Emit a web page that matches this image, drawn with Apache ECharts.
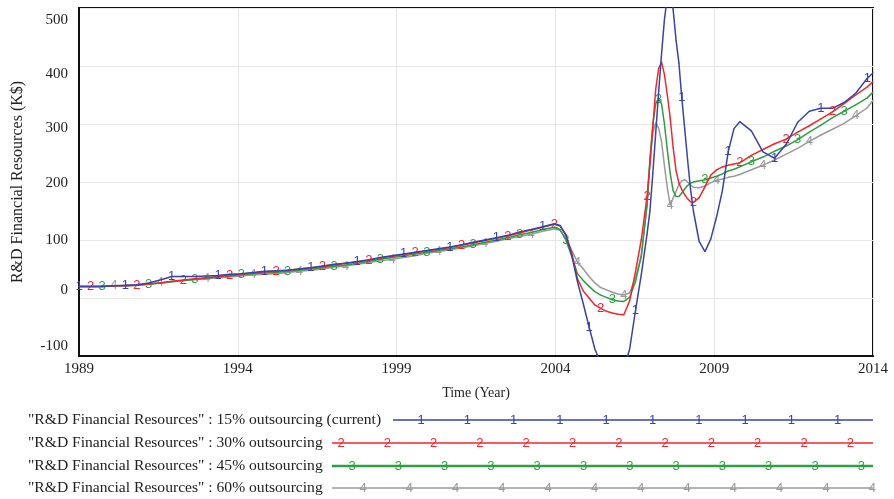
<!DOCTYPE html>
<html><head><meta charset="utf-8">
<script src="https://cdn.jsdelivr.net/npm/echarts@6/dist/echarts.min.js"></script>
<style>html,body{margin:0;padding:0;background:#fff}#c{width:894px;height:499px}</style>
</head><body><div id="c"></div>
<script>
const years=[1989.000,1989.365,1989.730,1990.095,1990.460,1990.825,1991.190,1991.555,1991.920,1992.285,1992.650,1993.015,1993.380,1993.745,1994.110,1994.475,1994.840,1995.205,1995.570,1995.935,1996.300,1996.665,1997.030,1997.395,1997.760,1998.125,1998.490,1998.855,1999.220,1999.585,1999.950,2000.315,2000.680,2001.045,2001.410,2001.775,2002.140,2002.505,2002.870,2003.235,2003.600,2003.965,
2004.148,2004.330,2004.513,2004.695,2004.878,2005.060,2005.243,2005.425,2005.608,2005.790,2005.973,2006.155,2006.338,2006.520,2006.703,2006.885,2006.976,2007.068,2007.159,2007.250,2007.341,2007.433,2007.524,2007.615,2007.706,2007.798,2007.889,2007.980,2008.071,2008.163,2008.254,2008.345,2008.528,2008.710,2008.893,2009.075,2009.258,2009.440,2009.623,2009.805,
2010.170,2010.535,2010.900,2011.265,2011.630,2011.995,2012.360,2012.725,2013.090,2013.455,2013.820,2014.000];
const out15=[20,20,20,21,22,23,26,31,37,37,37,38,39,41,42,44,46,47,48,50,52,55,58,60,63,66,70,73,76,79,82,85,88,92,96,100,104,108,114,118,123,128,
125,108,74,28,-10,-50,-88,-112,-130,-138,-135,-122,-88,-22,40,110,150,215,285,355,420,480,520,525,498,445,405,345,292,238,188,150,97,80,102,140,185,252,292,304,
288,252,241,265,303,322,327,327,337,353,379,388];
const out30=[20,20,20,21,21,22,24,26,29,31,33,35,37,39,41,43,45,46,48,50,52,54,57,60,62,65,69,72,75,78,81,84,87,91,95,99,103,107,112,117,122,127,
124,110,78,33,12,0,-12,-18,-23,-26,-28,-29,-5,45,100,175,230,295,360,395,407,385,350,310,260,220,198,187,178,171,166,165,173,192,212,221,226,229,231,233,
246,256,266,274,286,297,309,321,335,350,364,373];
const out45=[20,20,20,21,21,22,24,26,28,30,32,34,36,38,40,42,43,44,46,48,50,52,55,57,60,63,67,70,73,76,79,82,85,88,92,96,100,104,109,113,118,122,
118,100,72,42,30,20,11,5,1,-3,-5,-6,1,28,72,160,240,300,335,343,335,300,255,215,185,175,175,181,188,194,198,200,202,204,207,210,214,219,222,226,
235,243,253,262,273,286,298,311,322,333,345,355];
const out60=[20,20,20,21,21,22,24,26,28,30,32,33,35,36,38,40,41,42,44,46,48,50,53,55,58,61,64,67,70,73,77,80,83,86,90,94,98,102,106,110,115,119,
117,102,82,62,50,37,26,18,14,10,7,5,9,34,72,160,235,285,302,293,270,228,190,160,172,184,195,202,204,200,195,191,190,193,199,203,205,208,210,213,
221,229,238,248,258,270,281,291,301,314,328,341];
const seriesNames=['"R&D Financial Resources" : 15% outsourcing (current)','"R&D Financial Resources" : 30% outsourcing','"R&D Financial Resources" : 45% outsourcing','"R&D Financial Resources" : 60% outsourcing'];
const markerText=['1','2','3','4'];
const xTickLabels=['1989','1994','1999','2004','2009','2014'];
const yTickLabels=['-100','0','100','200','300','400','500'];

const colors=['#3a43a6','#f2262b','#2f9e44','#9a9a9a'];
const allVals=[out15,out30,out45,out60];
const markStep=0.365;
const yShift=[-10,-8,0,1,4,8,12];

function build(vals,k){
  return years.map((t,i)=>{
    const r=(t-1989)/markStep, n=Math.round(r);
    const item={value:[t-1989,vals[i]]};
    if(Math.abs(r-n)<0.01 && n%4===k) item.label={show:true};
    return item;
  });
}
const series=allVals.map((v,k)=>({
  type:'line',name:seriesNames[k],data:build(v,k),
  symbol:'circle',symbolSize:1,showSymbol:true,showAllSymbol:true,
  lineStyle:{color:colors[k],width:1.5},itemStyle:{color:colors[k]},
  label:{show:false,position:'inside',formatter:markerText[k],color:colors[k],fontSize:13,fontFamily:'Liberation Sans'},
  emphasis:{disabled:true},z:10-k,animation:false
}));

const rich={};
yShift.forEach((s,i)=>{rich['s'+i]={fontFamily:'Liberation Serif',fontSize:15,color:'#222',padding:s>=0?[2*s,0,0,0]:[0,0,-2*s,0]};});

const legendRows=[{y:420,x0:393,m0:421},{y:443,x0:332,m0:341},{y:466,x0:332,m0:352},{y:488,x0:332,m0:363}];
const graphic=[];
legendRows.forEach((r,k)=>{
  graphic.push({type:'text',x:28,y:r.y,style:{text:seriesNames[k],font:'15.6px "Liberation Serif"',fill:'#222',textVerticalAlign:'middle',verticalAlign:'middle'}});
  graphic.push({type:'line',shape:{x1:r.x0,y1:r.y,x2:873,y2:r.y},style:{stroke:colors[k],lineWidth:k===2?2.5:1.5}});
  for(let x=r.m0;x<=875;x+=46.3){
    graphic.push({type:'text',x:x,y:r.y,style:{text:markerText[k],font:'13px "Liberation Sans"',fill:colors[k],textAlign:'center',align:'center',textVerticalAlign:'middle',verticalAlign:'middle'}});
  }
});

const chart=echarts.init(document.getElementById('c'),null,{renderer:'canvas'});
chart.setOption({
  animation:false,
  grid:{left:79,right:21,top:8,bottom:143,show:true,borderColor:'#111',borderWidth:2,containLabel:false},
  xAxis:{type:'value',min:0,max:25,interval:5,
    axisLabel:{formatter:v=>xTickLabels[Math.round(v/5)],fontFamily:'Liberation Serif',fontSize:15,color:'#222',margin:6},
    axisTick:{show:false},axisLine:{onZero:false,lineStyle:{color:'#111',width:2}},
    splitLine:{show:true,lineStyle:{color:'#e6e6e6',width:1}},
    name:'Time (Year)',nameLocation:'middle',nameGap:30,
    nameTextStyle:{fontFamily:'Liberation Serif',fontSize:14,color:'#222'}},
  yAxis:{type:'value',min:-100,max:500,interval:100,
    axisLabel:{formatter:v=>{const i=Math.round((v+100)/100);return '{s'+i+'|'+yTickLabels[i]+'}';},rich:rich,margin:11},
    axisTick:{show:false},axisLine:{show:true,onZero:false,lineStyle:{color:'#111',width:2}},
    splitLine:{show:true,lineStyle:{color:'#e6e6e6',width:1}},
    name:'R&D Financial Resources (K$)',nameLocation:'middle',nameGap:53,
    nameTextStyle:{fontFamily:'Liberation Serif',fontSize:16,color:'#222'}},
  series:series,
  graphic:graphic
});
</script></body></html>
